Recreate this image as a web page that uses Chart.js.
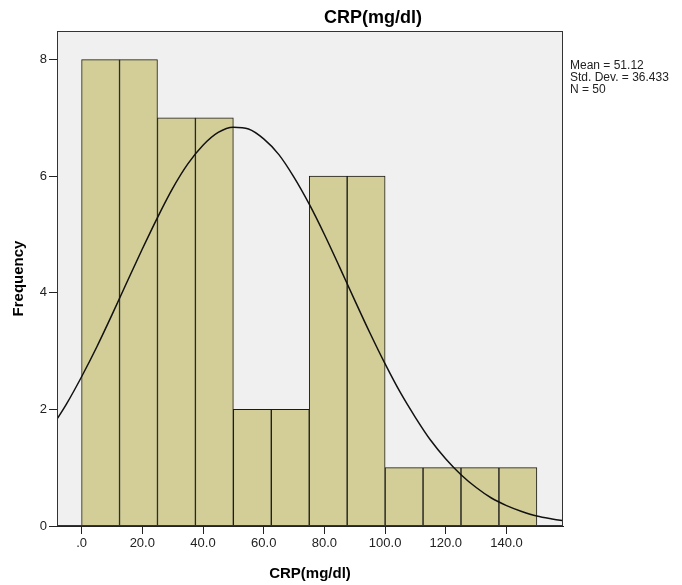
<!DOCTYPE html>
<html>
<head>
<meta charset="utf-8">
<script src="https://cdn.jsdelivr.net/npm/chart.js@4/dist/chart.umd.min.js"></script>
<style>
  html, body { margin: 0; padding: 0; background: #ffffff; }
  #wrap { position: relative; width: 682px; height: 585px; }
</style>
</head>
<body>
<div id="wrap"><canvas id="c"></canvas></div>
<script>
// ---- Data ----
const chartTitle = "CRP(mg/dl)";
const xAxisTitle = "CRP(mg/dl)";
const yAxisTitle = "Frequency";
const statsLines = ["Mean = 51.12", "Std. Dev. = 36.433", "N = 50"];

const binLowerEdges = [0, 12.5, 25, 37.5, 50, 62.5, 75, 87.5, 100, 112.5, 125, 137.5];
const binWidth = 12.5;
const frequencies = [8, 8, 7, 7, 2, 2, 6, 6, 1, 1, 1, 1];

// normal curve
const curveX = [-10, -5, 0, 5, 10, 15, 20, 25, 30, 35, 40, 45, 50, 55, 60, 65, 70, 75, 80, 85, 90, 95, 100, 105, 110, 115, 120, 125, 130, 135, 140, 145, 150, 155, 160];
const curveY = [1.68, 2.09, 2.56, 3.07, 3.62, 4.19, 4.75, 5.29, 5.79, 6.21, 6.53, 6.75, 6.84, 6.81, 6.64, 6.37, 5.98, 5.52, 5.00, 4.44, 3.87, 3.31, 2.78, 2.29, 1.86, 1.47, 1.15, 0.88, 0.66, 0.48, 0.35, 0.25, 0.17, 0.12, 0.08];

const xTicks = [0, 20, 40, 60, 80, 100, 120, 140];
const yTicks = [0, 2, 4, 6, 8];

// ---- build datasets ----
const barData = binLowerEdges.map((lo, i) => ({ x: lo + binWidth / 2, y: frequencies[i] }));
const curveData = curveX.map((x, i) => ({ x: x, y: curveY[i] }));

const FONT = "'Liberation Sans', Arial, sans-serif";

const framePlugin = {
  id: 'frame',
  beforeDraw(chart) {
    const { ctx, chartArea: a } = chart;
    ctx.save();
    ctx.fillStyle = '#f0f0f0';
    ctx.fillRect(a.left, a.top, a.right - a.left, a.bottom - a.top);
    ctx.restore();
  },
  afterDatasetsDraw(chart) {
    const { ctx, chartArea: a } = chart;
    ctx.save();
    ctx.strokeStyle = '#333333';
    ctx.lineWidth = 1;
    ctx.strokeRect(Math.round(a.left) + 0.5, Math.round(a.top) + 0.5,
                   Math.round(a.right - a.left) - 1, Math.round(a.bottom - a.top) - 1);
    ctx.restore();
  },
  afterDraw(chart) {
    const { ctx } = chart;
    ctx.save();
    ctx.fillStyle = '#000000';
    ctx.font = "bold 18px " + FONT;
    ctx.textAlign = 'center';
    ctx.textBaseline = 'middle';
    ctx.fillText(chartTitle, 373, 18);
    ctx.font = "12px " + FONT;
    ctx.textAlign = 'left';
    ctx.fillStyle = '#222222';
    statsLines.forEach((t, i) => ctx.fillText(t, 570, 66 + i * 11.8));
    ctx.restore();
  }
};

new Chart(document.getElementById('c'), {
  type: 'bar',
  data: {
    datasets: [
      {
        type: 'line',
        data: curveData,
        borderColor: '#111111',
        borderWidth: 1.5,
        pointRadius: 0,
        tension: 0.4,
        cubicInterpolationMode: 'monotone',
        fill: false,
        order: 0
      },
      {
        type: 'bar',
        data: barData,
        backgroundColor: '#d3ce98',
        borderColor: '#1a1a1a',
        borderWidth: 1,
        barPercentage: 1,
        categoryPercentage: 1,
        order: 1
      }
    ]
  },
  plugins: [framePlugin],
  options: {
    responsive: true,
    maintainAspectRatio: false,
    animation: false,
    layout: { padding: { top: 31, right: 119, left: 0, bottom: 0 } },
    plugins: { legend: { display: false }, tooltip: { enabled: false }, title: { display: false } },
    scales: {
      x: {
        type: 'linear',
        min: -8.1,
        max: 158.6,
        offset: false,
        afterBuildTicks: (s) => { s.ticks = xTicks.map(v => ({ value: v })); },
        afterFit: (s) => { s.height = 59; },
        grid: { offset: false, drawOnChartArea: false, drawTicks: true, tickLength: 8, color: '#222222' },
        border: { display: true, color: '#222222' },
        ticks: {
          color: '#222222',
          font: { family: FONT, size: 13 },
          padding: 2,
          maxRotation: 0,
          callback: (v) => v === 0 ? '.0' : Number(v).toFixed(1)
        },
        title: {
          display: true, text: xAxisTitle, color: '#000000',
          font: { family: FONT, size: 15, weight: 'bold' },
          padding: { top: 0, bottom: 2 }
        }
      },
      y: {
        type: 'linear',
        min: 0,
        max: 8.49,
        afterBuildTicks: (s) => { s.ticks = yTicks.map(v => ({ value: v })); },
        afterFit: (s) => { s.width = 57; },
        grid: { offset: false, drawOnChartArea: false, drawTicks: true, tickLength: 8, color: '#222222' },
        border: { display: true, color: '#222222' },
        ticks: {
          color: '#222222',
          font: { family: FONT, size: 13 },
          padding: 2,
          callback: (v) => String(v)
        },
        title: {
          display: true, text: yAxisTitle, color: '#000000',
          font: { family: FONT, size: 15, weight: 'bold' },
          padding: { top: 10, bottom: 0 }
        }
      }
    }
  }
});
</script>
</body>
</html>
